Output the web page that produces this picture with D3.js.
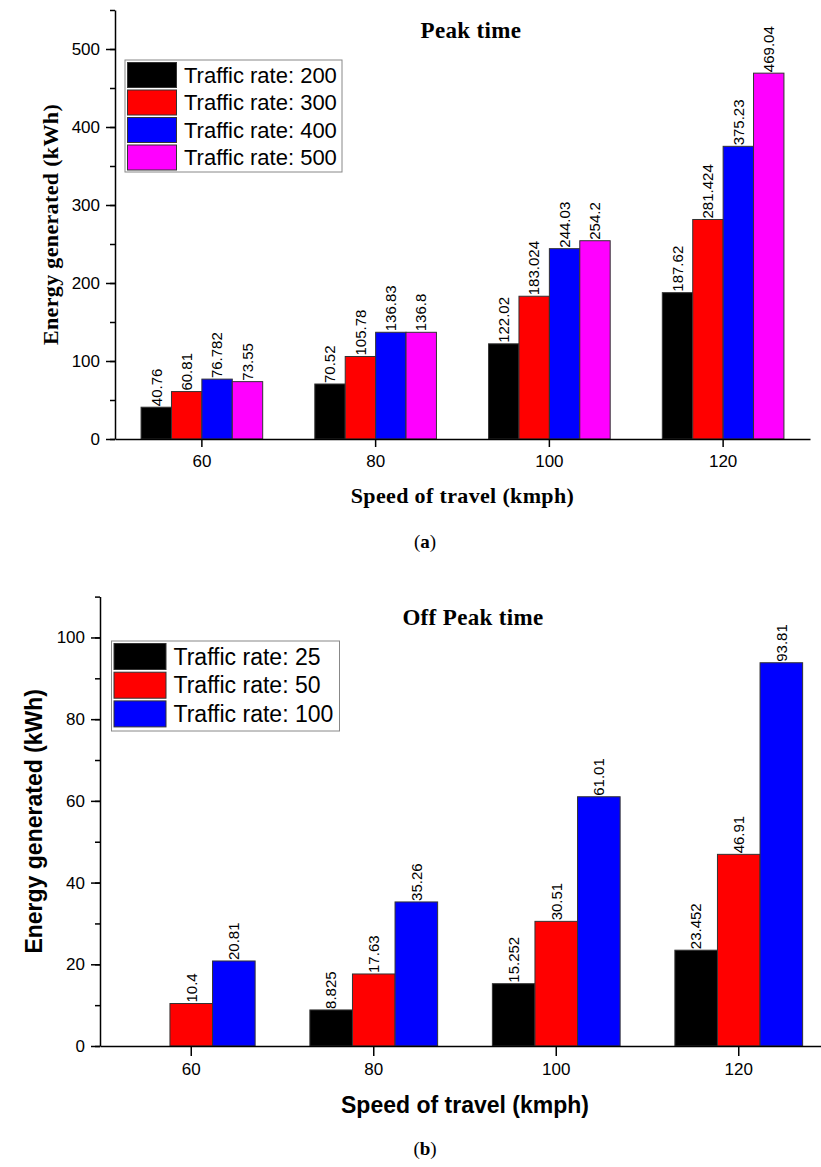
<!DOCTYPE html>
<html>
<head>
<meta charset="utf-8">
<script src="https://cdn.jsdelivr.net/npm/d3@7"></script>
<style>
  body { margin: 0; background: #fff; }
  svg { display: block; }
</style>
</head>
<body>
<div id="chart"></div>
<script>
// categories and series
var speeds = ["60", "80", "100", "120"];

var peakNames = ["Traffic rate: 200", "Traffic rate: 300", "Traffic rate: 400", "Traffic rate: 500"];
var peak200 = [40.76, 70.52, 122.02, 187.62];
var peak300 = [60.81, 105.78, 183.024, 281.424];
var peak400 = [76.782, 136.83, 244.03, 375.23];
var peak500 = [73.55, 136.8, 254.2, 469.04];
var peakTicks = [0, 100, 200, 300, 400, 500];

var offNames = ["Traffic rate: 25", "Traffic rate: 50", "Traffic rate: 100"];
var off25 = [null, 8.825, 15.252, 23.452];
var off50 = [10.4, 17.63, 30.51, 46.91];
var off100 = [20.81, 35.26, 61.01, 93.81];
var offTicks = [0, 20, 40, 60, 80, 100];

var colors = ["#000000", "#ff0000", "#0000ff", "#ff00ff"];

var svg = d3.select("#chart")
  .append("svg")
  .attr("width", 821)
  .attr("height", 1167);

var sans = "'Liberation Sans', Arial, sans-serif";
var serif = "'Liberation Serif', 'Times New Roman', serif";

function drawPanel(p) {
  var g = svg.append("g");

  var x0 = d3.scaleBand().domain(speeds).range(p.xRange).paddingInner(0).paddingOuter(0);
  var groupW = x0.bandwidth() * 0.7;
  var x1 = d3.scaleBand().domain(d3.range(p.series.length)).range([0, groupW]);
  var y = d3.scaleLinear().domain(p.yDomain).range(p.yRange);

  // bars
  p.series.forEach(function(vals, si) {
    var sg = g.append("g");
    var rows = vals.map(function(v, i) { return {cat: speeds[i], v: v}; })
      .filter(function(d) { return d.v != null; });
    sg.selectAll("rect")
      .data(rows)
      .enter()
      .append("rect")
      .attr("x", d => x0(d.cat) + (x0.bandwidth() - groupW) / 2 + x1(si))
      .attr("y", d => y(d.v))
      .attr("width", x1.bandwidth())
      .attr("height", d => y(0) - y(d.v))
      .attr("fill", colors[si])
      .attr("stroke", "#333")
      .attr("stroke-width", 1);
    sg.selectAll("text")
      .data(rows)
      .enter()
      .append("text")
      .attr("transform", d => "translate(" + (x0(d.cat) + (x0.bandwidth() - groupW) / 2 + x1(si) + x1.bandwidth() / 2) + "," + (y(d.v) - 1) + ") rotate(-90)")
      .attr("dy", "0.35em")
      .style("font-family", sans)
      .style("font-size", "15px")
      .text(d => String(d.v));
  });

  // axes
  var yMinor = d3.range(p.yDomain[0], p.yDomain[1] + 0.001, p.minorStep);
  g.append("g")
    .attr("transform", "translate(" + p.xRange[0] + ",0)")
    .call(d3.axisLeft(y).tickValues(yMinor).tickSize(5).tickFormat(""))
    .call(a => a.select(".domain").remove());
  var yAx = g.append("g")
    .attr("transform", "translate(" + p.xRange[0] + ",0)")
    .call(d3.axisLeft(y).tickValues(p.ticks).tickSize(9).tickPadding(6).tickSizeOuter(0));
  yAx.selectAll("text").style("font-family", sans).style("font-size", "17px").attr("fill", "#000");

  var xAx = g.append("g")
    .attr("transform", "translate(0," + y(0) + ")")
    .call(d3.axisBottom(x0).tickSize(p.xTick).tickPadding(p.xPad).tickSizeOuter(0));
  xAx.selectAll("text").style("font-family", sans).style("font-size", "17px").attr("fill", "#000");

  g.selectAll(".domain").attr("stroke-width", 1.5);
  g.selectAll(".tick line").attr("stroke-width", 1.5);

  // titles
  g.append("text")
    .attr("x", p.titleX)
    .attr("y", p.titleY)
    .attr("text-anchor", "middle")
    .style("font-family", serif)
    .style("font-weight", "bold")
    .style("font-size", "23px")
    .style("letter-spacing", "0.35px")
    .text(p.title);

  var xl = g.append("text")
    .attr("x", (p.xRange[0] + p.xRange[1]) / 2)
    .attr("y", p.xLabelY)
    .attr("text-anchor", "middle")
    .style("font-family", p.labelFont)
    .style("font-weight", "bold")
    .style("font-size", p.labelSize)
    .text("Speed of travel (kmph)");

  var yl = g.append("text")
    .attr("transform", "translate(" + p.yLabelX + "," + ((p.yRange[0] + p.yRange[1]) / 2) + ") rotate(-90)")
    .attr("text-anchor", "middle")
    .style("font-family", p.labelFont)
    .style("font-weight", "bold")
    .style("font-size", p.labelSize)
    .text("Energy generated (kWh)");

  if (p.labelFont === serif) {
    xl.style("letter-spacing", "0.35px");
    yl.style("letter-spacing", "0.35px");
  }

  // legend
  var L = p.legend;
  var lg = g.append("g");
  lg.append("rect")
    .attr("x", L.x).attr("y", L.y)
    .attr("width", L.w).attr("height", L.h)
    .attr("fill", "#fff")
    .attr("stroke", "#888")
    .attr("stroke-width", 1);
  p.names.forEach(function(name, i) {
    lg.append("rect")
      .attr("x", L.x + 2.5).attr("y", L.y + 2.5 + i * L.pitch)
      .attr("width", L.sw).attr("height", L.sh)
      .attr("fill", colors[i])
      .attr("stroke", "#333")
      .attr("stroke-width", 1);
    lg.append("text")
      .attr("x", L.x + L.tx)
      .attr("y", L.y + 2.5 + i * L.pitch + L.sh / 2 + L.fs * 0.36)
      .style("font-family", sans)
      .style("font-size", L.fs + "px")
      .text(name);
  });

  // sub-caption
  var cap = svg.append("text")
    .attr("x", 425)
    .attr("y", p.capY)
    .attr("text-anchor", "middle")
    .style("font-family", serif)
    .style("font-size", "19px");
  cap.append("tspan").text("(");
  cap.append("tspan").style("font-weight", "bold").text(p.cap);
  cap.append("tspan").text(")");
}

drawPanel({
  series: [peak200, peak300, peak400, peak500],
  names: peakNames,
  ticks: peakTicks,
  minorStep: 50,
  yDomain: [0, 550],
  yRange: [439, 10],
  xRange: [115, 810],
  xTick: 8, xPad: 8,
  title: "Peak time", titleX: 471, titleY: 38,
  labelFont: serif, labelSize: "22px",
  xLabelY: 503, yLabelX: 58,
  legend: {x: 125, y: 60, w: 217, h: 112, sw: 49, sh: 25, pitch: 27.5, tx: 59, fs: 22},
  capY: 548, cap: "a"
});

drawPanel({
  series: [off25, off50, off100],
  names: offNames,
  ticks: offTicks,
  minorStep: 10,
  yDomain: [0, 110],
  yRange: [1046, 596.6],
  xRange: [100, 830],
  xTick: 10, xPad: 7,
  title: "Off Peak time", titleX: 473, titleY: 625,
  labelFont: sans, labelSize: "23px",
  xLabelY: 1113, yLabelX: 42,
  legend: {x: 111.5, y: 641, w: 228, h: 90, sw: 52, sh: 26, pitch: 28.7, tx: 62, fs: 23},
  capY: 1155, cap: "b"
});
</script>
</body>
</html>
